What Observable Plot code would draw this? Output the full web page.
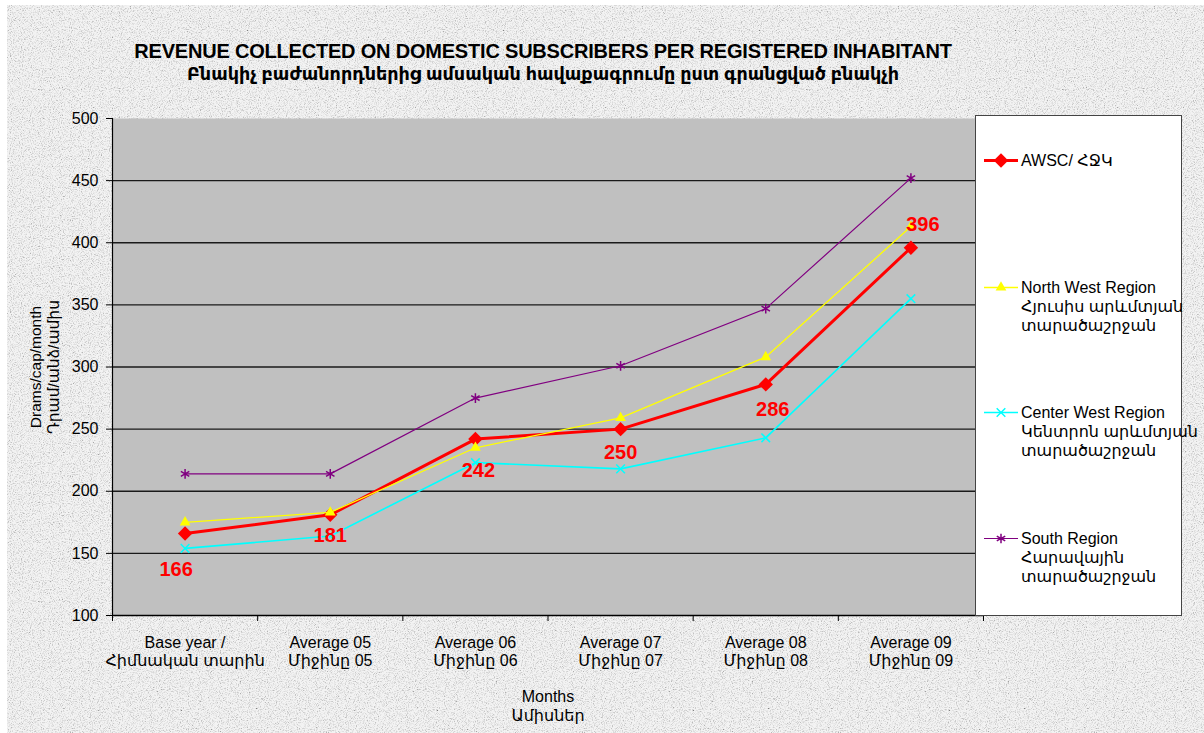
<!DOCTYPE html>
<html>
<head>
<meta charset="utf-8">
<script src="https://cdn.jsdelivr.net/npm/d3@7"></script>
<script src="https://cdn.jsdelivr.net/npm/@observablehq/plot@0.6"></script>
<style>
  html, body { margin: 0; padding: 0; background: #ffffff; }
  #page {
    position: relative; width: 1204px; height: 733px; overflow: hidden;
    font-family: "Liberation Sans", Arial, "DejaVu Sans", sans-serif;
  }
  #bg {
    position: absolute; left: 7px; top: 5px; right: 0; bottom: 0;
    background-color: #e9e9e9;
    background-image: url("data:image/svg+xml,%3Csvg xmlns='http://www.w3.org/2000/svg' width='256' height='256'%3E%3Cfilter id='n'%3E%3CfeTurbulence type='fractalNoise' baseFrequency='0.9' numOctaves='3' stitchTiles='stitch'/%3E%3CfeColorMatrix values='2.2 0 0 0 -0.2 2.2 0 0 0 -0.2 2.2 0 0 0 -0.2 0 0 0 0 0.45'/%3E%3C/filter%3E%3Crect width='256' height='256' filter='url(%23n)'/%3E%3C/svg%3E");
  }
  #chart { position: absolute; left: 0; top: 0; }
  #title {
    position: absolute; left: 0; top: 40px; width: 1086px; text-align: center;
    font-weight: bold; color: #000;
  }
  #title .t1 { font-size: 20px; line-height: 23px; letter-spacing: -0.2px; }
  #title .t2 { font-size: 17.6px; line-height: 23px; }
  #legend {
    position: absolute; left: 975px; top: 115px; width: 207px; height: 501px;
    background: #fff; border: 1px solid #444; box-sizing: border-box;
  }
  .item { position: absolute; left: 0; width: 207px; font-size: 16px; line-height: 19px; color: #000; }
  .item svg { position: absolute; left: 8px; top: 0; }
  .item div { position: absolute; left: 45px; top: 0; white-space: nowrap; }
</style>
</head>
<body>
<div id="page">
  <div id="bg"></div>
  <div id="chart"></div>
  <div id="title"></div>
  <div id="legend"></div>
</div>
<script>
// ---- data ----
const titleLines = [
  "REVENUE COLLECTED ON DOMESTIC SUBSCRIBERS PER REGISTERED INHABITANT",
  "Բնակիչ բաժանորդներից ամսական հավաքագրումը ըստ գրանցված բնակչի"
];
const categories = [
  "Base year /\nՀիմնական տարին",
  "Average 05\nՄիջինը 05",
  "Average 06\nՄիջինը 06",
  "Average 07\nՄիջինը 07",
  "Average 08\nՄիջինը 08",
  "Average 09\nՄիջինը 09"
];
const seriesNames = [
  "AWSC/ ՀՋԿ",
  "North West Region\nՀյուսիս արևմտյան\nտարածաշրջան",
  "Center West Region\nԿենտրոն արևմտյան\nտարածաշրջան",
  "South Region\nՀարավային\nտարածաշրջան"
];
const awsc       = [166, 181, 242, 250, 286, 396];
const northWest  = [175, 183, 235, 259, 308, 413];
const centerWest = [154, 164, 223, 218, 243, 355];
const south      = [214, 214, 275, 301, 347, 452];
const yTicks = [100, 150, 200, 250, 300, 350, 400, 450, 500];
const yLabel = "Drams/cap/month\nԴրամ/անձ/ամիս";
const xLabel = "Months\nԱմիսներ";

// ---- styles (kept apart from data) ----
const seriesStyles = [
  {stroke: "#ff0000", width: 3,   symbol: "diamond2", r: 6.5, filled: true},
  {stroke: "#ffff00", width: 1.3, symbol: "triangle", r: 4,   filled: true},
  {stroke: "#00ffff", width: 1.6, symbol: "times",    r: 4,   filled: false},
  {stroke: "#800080", width: 1.2, symbol: "asterisk", r: 4.6, filled: false}
];
const labelOffsets = [[-9, 36], [0, 21], [3, 32], [0, 23], [7, 25], [12, -23]];
const legendTops = [35, 162, 287, 413];

// ---- build tables ----
const allSeries = [awsc, northWest, centerWest, south];
const tables = allSeries.map((vals, s) =>
  vals.map((v, i) => ({idx: i + 0.5, value: v, series: seriesNames[s]}))
);

const marks = [
  Plot.frame({fill: "#c0c0c0", stroke: null}),
  Plot.ruleY(yTicks.slice(1, -1), {stroke: "#1a1a1a", strokeWidth: 1.3}),
  Plot.axisY({ticks: yTicks, tickSize: 6, tickPadding: 8, fontSize: 16, label: null, stroke: "#000", color: "#000"}),
  Plot.axisX({ticks: d3.range(0, categories.length + 1), tickSize: 6, tickFormat: () => "", label: null, stroke: "#000"}),
  Plot.axisX({ticks: categories.map((c, i) => i + 0.5), tickSize: 0, tickPadding: 20,
              tickFormat: d => categories[Math.floor(d)], fontSize: 16, lineHeight: 1.13, label: null, color: "#000"}),
  Plot.ruleX([0], {stroke: "#000", strokeWidth: 1.2}),
  Plot.ruleY([100], {stroke: "#000", strokeWidth: 1.5}),
  Plot.text([yLabel], {frameAnchor: "left", rotate: -90, dx: -68, textAnchor: "middle", lineAnchor: "middle",
                       fontSize: 15.5, lineHeight: 1.16, fill: "#000", text: d => d}),
  Plot.text([xLabel], {frameAnchor: "bottom", dy: 89.5, lineAnchor: "middle", fontSize: 16, lineHeight: 1.2, fill: "#000", text: d => d})
];

tables.forEach((rows, s) => {
  const st = seriesStyles[s];
  marks.push(Plot.line(rows, {x: "idx", y: "value", stroke: st.stroke, strokeWidth: st.width}));
  marks.push(Plot.dot(rows, {
    x: "idx", y: "value", symbol: () => st.symbol, r: st.r,
    fill: st.filled ? st.stroke : "none", stroke: st.stroke, strokeWidth: st.filled ? 0 : 1.5
  }));
});

tables[0].forEach((row, i) => {
  marks.push(Plot.text([row], {
    x: "idx", y: "value", text: d => String(d.value),
    dx: labelOffsets[i][0], dy: labelOffsets[i][1],
    fill: "#ff0000", fontSize: 20, fontWeight: "bold"
  }));
});

const chart = Plot.plot({
  width: 1204, height: 733,
  marginLeft: 112, marginRight: 221, marginTop: 118, marginBottom: 118,
  style: {background: "transparent", fontFamily: "'Liberation Sans', Arial, 'DejaVu Sans', sans-serif", color: "#000"},
  x: {type: "linear", domain: [0, categories.length]},
  y: {domain: [100, 500]},
  marks
});
document.getElementById("chart").appendChild(chart);

// ---- title ----
document.getElementById("title").innerHTML = titleLines.map((t, i) => `<div class="t${i + 1}">${t}</div>`).join("");

// ---- legend ----
const legend = document.getElementById("legend");
seriesNames.forEach((name, s) => {
  const st = seriesStyles[s];
  const item = document.createElement("div");
  item.className = "item";
  item.style.top = legendTops[s] + "px";
  const size = Math.PI * st.r * st.r;
  const symMap = {diamond2: d3.symbolDiamond2, triangle: d3.symbolTriangle, times: d3.symbolTimes, asterisk: d3.symbolAsterisk};
  const path = d3.symbol(symMap[st.symbol], size)();
  item.innerHTML =
    `<svg width="34" height="19"><line x1="0" x2="34" y1="9.5" y2="9.5" stroke="${st.stroke}" stroke-width="${st.width}"/>` +
    `<path transform="translate(17,9.5)" d="${path}" fill="${st.filled ? st.stroke : "none"}" stroke="${st.stroke}" stroke-width="${st.filled ? 0 : 1.5}"/></svg>` +
    `<div>${name.split("\n").join("<br>")}</div>`;
  legend.appendChild(item);
});
</script>
</body>
</html>
